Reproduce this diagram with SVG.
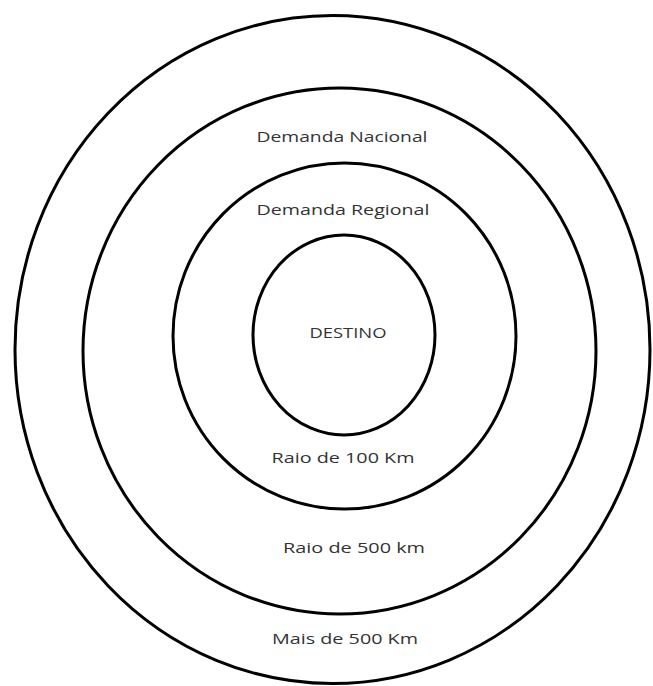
<svg xmlns="http://www.w3.org/2000/svg" width="653" height="686" viewBox="0 0 653 686">
<style>
.ring{fill:none;stroke:#000;stroke-width:3}
.lbl{font-family:"Open Sans","Liberation Sans",sans-serif;font-size:15px;fill:#333;text-anchor:middle}
</style>
<rect width="653" height="686" fill="#fff"/>
<g id="outer"><ellipse class="ring" cx="332.5" cy="349.5" rx="317.5" ry="334"/></g>
<g id="nacional"><ellipse class="ring" cx="339.5" cy="351" rx="256.5" ry="263"/></g>
<g id="regional"><ellipse class="ring" cx="344.5" cy="336" rx="171.5" ry="173"/></g>
<g id="destino"><ellipse class="ring" cx="344" cy="335" rx="91" ry="100"/></g>
<g id="labels">
<text class="lbl" x="342" y="142" textLength="171" lengthAdjust="spacingAndGlyphs">Demanda Nacional</text>
<text class="lbl" x="343" y="215" textLength="173" lengthAdjust="spacingAndGlyphs">Demanda Regional</text>
<text class="lbl" x="348" y="338" textLength="77" lengthAdjust="spacingAndGlyphs">DESTINO</text>
<text class="lbl" x="343" y="463" textLength="143" lengthAdjust="spacingAndGlyphs">Raio de 100 Km</text>
<text class="lbl" x="354" y="553" textLength="142" lengthAdjust="spacingAndGlyphs">Raio de 500 km</text>
<text class="lbl" x="345" y="644" textLength="146" lengthAdjust="spacingAndGlyphs">Mais de 500 Km</text>
</g>
</svg>
